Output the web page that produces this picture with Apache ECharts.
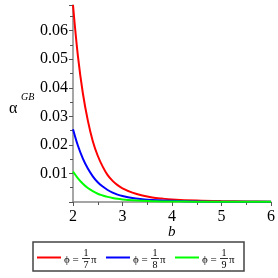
<!DOCTYPE html>
<html><head><meta charset="utf-8">
<script src="https://cdn.jsdelivr.net/npm/echarts@6/dist/echarts.min.js"></script>
<style>html,body{margin:0;padding:0;background:#fff}#c{width:278px;height:278px}</style>
</head><body><div id="c"></div>
<script>
var bValues = [2.0,2.1,2.2,2.3,2.4,2.5,2.6,2.7,2.8,2.9,3.0,3.2,3.4,3.6,3.8,4.0,4.5,5.0,5.5,6.0];
var redValues = [0.0690,0.0510,0.0380,0.0285,0.0213,0.0162,0.0124,0.0094,0.0074,0.0059,0.0048,0.0033,0.0023,0.0016,0.0012,0.0009,0.0005,0.0003,0.0002,0.0001];
var blueValues = [0.0255,0.0197,0.0152,0.0117,0.0090,0.0069,0.0054,0.0042,0.0033,0.0026,0.0021,0.0014,0.0010,0.0007,0.0005,0.0004,0.0002,0.0001,0.0001,0.0001];
var greenValues = [0.0107,0.0083,0.0064,0.0049,0.0038,0.0029,0.0023,0.0018,0.0014,0.0011,0.0009,0.0006,0.0004,0.0003,0.0002,0.0002,0.0001,0.0001,0.0001,0.0001];
var seriesDenoms = ['7','8','9'];
var seriesColors = ['#ff0000','#0000ff','#00ff00'];
var xTicks = [2,3,4,5,6];
var yTicks = [0.01,0.02,0.03,0.04,0.05,0.06];

function pairs(v){ return bValues.map(function(b,i){ return [b, v[i]]; }); }
var allVals = [redValues, blueValues, greenValues];
var serif = 'Liberation Serif';

var series = allVals.map(function(v,i){
  return { type:'line', data:pairs(v), smooth:0.35, showSymbol:false, symbol:'none',
    lineStyle:{color:seriesColors[i], width:2}, itemStyle:{color:seriesColors[i]}, z:2+i, animation:false };
});

var graphics = [
  { type:'text', left:9, top:101, style:{ text:'α', font:'16px "'+serif+'"', fill:'#000' } },
  { type:'text', left:21, top:92, style:{ text:'GB', font:'italic 10px "'+serif+'"', fill:'#000' } },
  { type:'text', left:168, top:225, style:{ text:'b', font:'italic 15px "'+serif+'"', fill:'#000' } },
  { type:'rect', shape:{ x:33, y:242, width:211, height:29 }, style:{ fill:'none', stroke:'#444', lineWidth:1.5 } }
];
seriesDenoms.forEach(function(d,i){
  var x0 = 37 + 69*i;
  graphics.push({ type:'line', shape:{x1:x0, y1:257.5, x2:x0+24, y2:257.5}, style:{stroke:seriesColors[i], lineWidth:2} });
  graphics.push({ type:'text', x:x0+27, y:260, style:{ text:'ϕ = ', font:'11px "'+serif+'"', fill:'#000', verticalAlign:'middle', align:'left' } });
  graphics.push({ type:'text', x:x0+49, y:253, style:{ text:'1', font:'10px "'+serif+'"', fill:'#000', verticalAlign:'middle', align:'center' } });
  graphics.push({ type:'line', shape:{x1:x0+45, y1:258.5, x2:x0+53, y2:258.5}, style:{stroke:'#000', lineWidth:0.8} });
  graphics.push({ type:'text', x:x0+49, y:265, style:{ text:d, font:'10px "'+serif+'"', fill:'#000', verticalAlign:'middle', align:'center' } });
  graphics.push({ type:'text', x:x0+54, y:260.5, style:{ text:'π', font:'11px "'+serif+'"', fill:'#000', verticalAlign:'middle', align:'left' } });
});

var chart = echarts.init(document.getElementById('c'), null, {renderer:'canvas'});
chart.setOption({
  animation:false,
  backgroundColor:'#fff',
  grid:{ left:73, right:5, top:5, bottom:76, containLabel:false },
  xAxis:{ type:'value', min:2, max:6, interval:1,
    axisLine:{ show:true, lineStyle:{color:'#888', width:1.5} },
    axisTick:{ show:true, inside:false, length:4, lineStyle:{color:'#555'} },
    minorTick:{ show:true, splitNumber:2, length:3, lineStyle:{color:'#555'} },
    splitLine:{show:false},
    axisLabel:{ margin:7, fontFamily:serif, fontSize:16, color:'#000',
      formatter:function(v){ return xTicks.indexOf(v)>=0 ? String(v) : ''; } } },
  yAxis:{ type:'value', min:0, max:0.069, interval:0.01,
    axisLine:{ show:true, lineStyle:{color:'#888', width:1.5} },
    axisTick:{ show:true, inside:false, length:4, lineStyle:{color:'#555'} },
    minorTick:{ show:true, splitNumber:2, length:3, lineStyle:{color:'#555'} },
    splitLine:{show:false},
    axisLabel:{ margin:5, fontFamily:serif, fontSize:16, color:'#000', showMaxLabel:false,
      formatter:function(v){ for(var k=0;k<yTicks.length;k++){ if(Math.abs(yTicks[k]-v)<1e-9) return yTicks[k].toFixed(2); } return ''; } } },
  series: series,
  graphic: graphics
});
</script></body></html>
